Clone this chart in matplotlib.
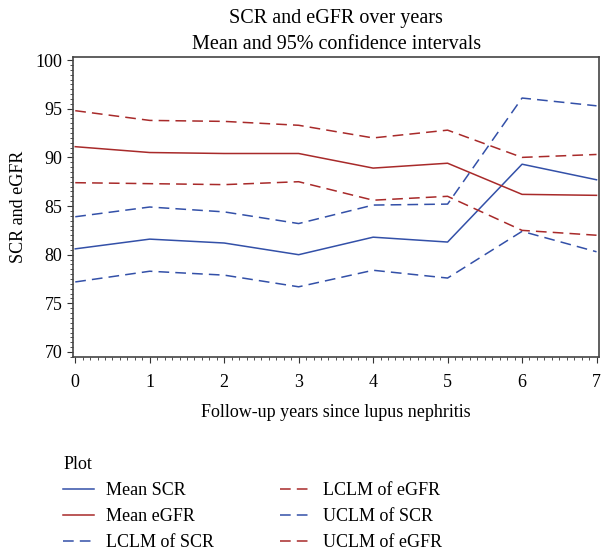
import matplotlib.pyplot as plt
from matplotlib.ticker import MultipleLocator

plt.rcParams['font.family'] = ['Liberation Serif', 'DejaVu Serif']

years = [0, 1, 2, 3, 4, 5, 6, 7]

mean_scr = [80.6, 81.6, 81.2, 80.0, 81.8, 81.3, 89.3, 87.7]
lclm_scr = [77.2, 78.3, 77.9, 76.7, 78.4, 77.6, 82.4, 80.3]
uclm_scr = [83.9, 84.9, 84.4, 83.2, 85.1, 85.2, 96.1, 95.3]

mean_egfr = [91.1, 90.5, 90.4, 90.4, 88.9, 89.4, 86.2, 86.1]
lclm_egfr = [87.4, 87.3, 87.2, 87.5, 85.6, 86.0, 82.5, 82.0]
uclm_egfr = [94.8, 93.8, 93.7, 93.3, 92.0, 92.8, 90.0, 90.3]

blue = '#3350a8'
red = '#a82a2a'
dash = (0, (7, 4))

fig = plt.figure(figsize=(6.01, 5.55), dpi=100)
ax = fig.add_axes([0.1215, 0.357, 0.876, 0.540])

ax.plot(years, mean_scr, color=blue, lw=1.1, label='Mean SCR')
ax.plot(years, mean_egfr, color=red, lw=1.1, label='Mean eGFR')
ax.plot(years, lclm_scr, color=blue, lw=1.1, ls=dash, label='LCLM of SCR')
ax.plot(years, lclm_egfr, color=red, lw=1.1, ls=dash, label='LCLM of eGFR')
ax.plot(years, uclm_scr, color=blue, lw=1.1, ls=dash, label='UCLM of SCR')
ax.plot(years, uclm_egfr, color=red, lw=1.1, ls=dash, label='UCLM of eGFR')

ax.set_xlim(-0.03, 7.04)
ax.set_ylim(69.5, 100.3)
ax.set_xticks(years)
ax.set_yticks([70, 75, 80, 85, 90, 95, 100])
ax.xaxis.set_minor_locator(MultipleLocator(0.1))
ax.yaxis.set_minor_locator(MultipleLocator(0.5))
ax.tick_params(which='major', length=4, labelsize=13, color='#333333')
ax.tick_params(which='minor', length=2, color='#333333')
ax.tick_params(axis='x', which='major', pad=8)
for s in ax.spines.values():
    s.set_color('#444444')
    s.set_linewidth(1.2)

ax.set_xlabel('Follow-up years since lupus nephritis', fontsize=13, labelpad=10)
ax.set_ylabel('SCR and eGFR', fontsize=13, labelpad=6)
ax.set_title('SCR and eGFR over years\nMean and 95% confidence intervals',
             fontsize=14.5, linespacing=1.5, pad=6)

handles, labels = ax.get_legend_handles_labels()
leg = fig.legend(handles, labels, ncol=2, loc='upper left',
                 bbox_to_anchor=(0.078, 0.208), frameon=False,
                 title='Plot', title_fontsize=13, fontsize=13,
                 alignment='left', handlelength=1.7, handletextpad=0.65,
                 columnspacing=3.7, labelspacing=0.5)

fig.savefig('out.png', dpi=100)
